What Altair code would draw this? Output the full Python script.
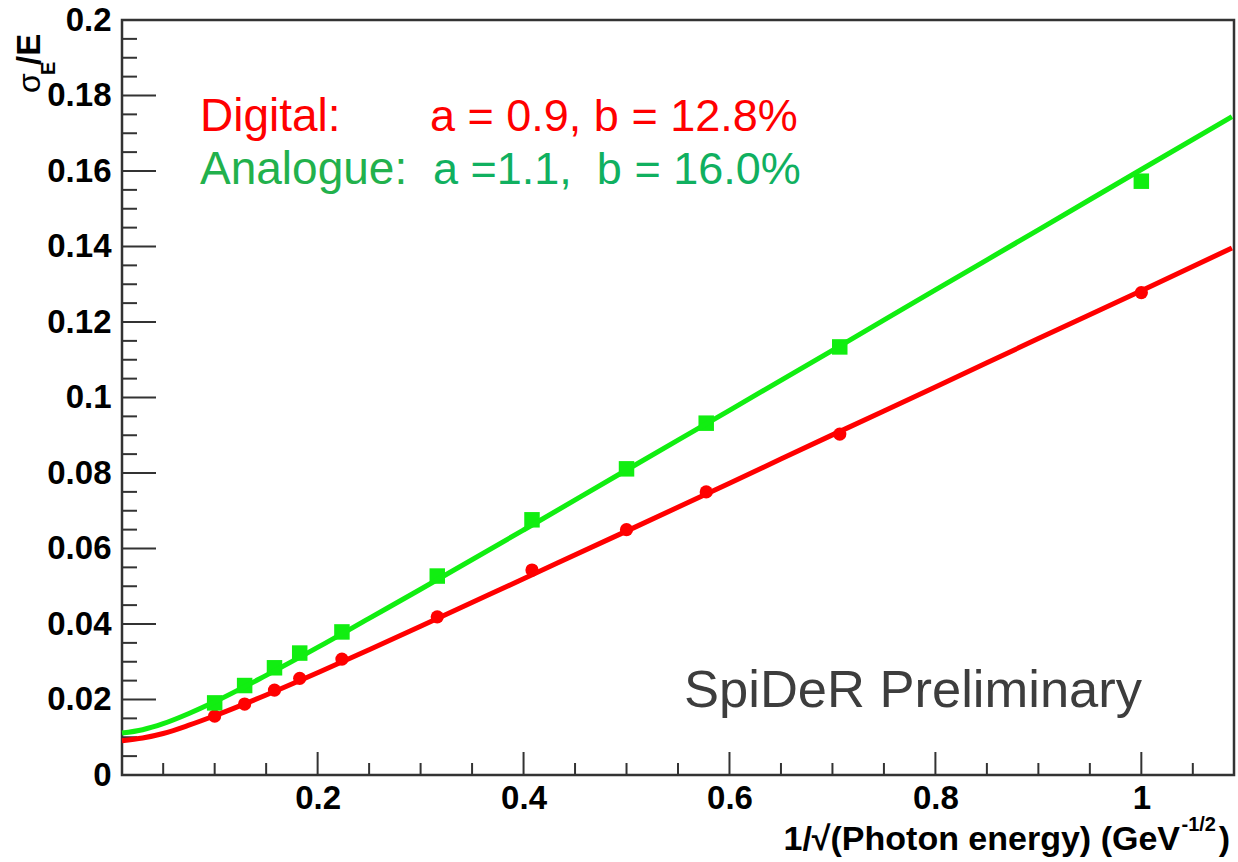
import altair as alt
import pandas as pd

# ---------------- data ----------------
x_points = [0.1, 0.1291, 0.1581, 0.1826, 0.2236, 0.3162, 0.4082, 0.5, 0.5774, 0.7071, 1.0]
digital_points = [0.0156, 0.0188, 0.0225, 0.0256, 0.0307, 0.0419, 0.0543, 0.0650, 0.0750, 0.0903, 0.1278]
analogue_points = [0.0191, 0.0237, 0.0284, 0.0323, 0.0379, 0.0527, 0.0676, 0.0811, 0.0932, 0.1134, 0.1573]

x_fit = [0.01, 0.03, 0.05, 0.075, 0.1, 0.15, 0.2, 0.25, 0.3, 0.4, 0.5, 0.6, 0.7, 0.8, 0.9, 1.0, 1.088]
digital_fit = [0.0091, 0.0098, 0.0110, 0.0132, 0.0157, 0.0212, 0.0271, 0.0332, 0.0394, 0.0520,
               0.0646, 0.0773, 0.0901, 0.1028, 0.1156, 0.1283, 0.1396]
analogue_fit = [0.0111, 0.0120, 0.0136, 0.0163, 0.0194, 0.0264, 0.0338, 0.0415, 0.0492, 0.0649,
                0.0808, 0.0966, 0.1125, 0.1285, 0.1444, 0.1604, 0.1744]

x_major = [0.2, 0.4, 0.6, 0.8, 1.0]
x_minor = [0.05, 0.1, 0.15, 0.25, 0.3, 0.35, 0.45, 0.5, 0.55, 0.65, 0.7, 0.75,
           0.85, 0.9, 0.95, 1.05]
y_major = [0.02, 0.04, 0.06, 0.08, 0.1, 0.12, 0.14, 0.16, 0.18]
y_labels = [0, 0.02, 0.04, 0.06, 0.08, 0.1, 0.12, 0.14, 0.16, 0.18, 0.2]
y_minor = [0.005, 0.01, 0.015, 0.025, 0.03, 0.035, 0.045, 0.05, 0.055, 0.065, 0.07, 0.075,
           0.085, 0.09, 0.095, 0.105, 0.11, 0.115, 0.125, 0.13, 0.135, 0.145, 0.15, 0.155,
           0.165, 0.17, 0.175, 0.185, 0.19, 0.195]

series_names = ["Digital", "Analogue"]
series_colors = ["#ff0000", "#11ee11"]

# ---------------- layout ----------------
W, H = 1112, 755
FONT = "Liberation Sans"
AX = "#333333"

pts = pd.DataFrame({
    "x": x_points * 2,
    "y": digital_points + analogue_points,
    "s": ["Digital"] * len(x_points) + ["Analogue"] * len(x_points),
})
fit = pd.DataFrame({
    "x": x_fit * 2,
    "y": digital_fit + analogue_fit,
    "s": ["Digital"] * len(x_fit) + ["Analogue"] * len(x_fit),
})

xscale = alt.Scale(domain=[0.01, 1.09], nice=False, zero=False)
yscale = alt.Scale(domain=[0, 0.2], nice=False, zero=True)
cscale = alt.Scale(domain=series_names, range=series_colors)

xaxis = alt.Axis(values=x_major, format="~g", ticks=False, domain=False, grid=False, title=None,
                 labelFont=FONT, labelFontWeight="bold", labelFontSize=33, labelColor="#000",
                 labelPadding=7, labelOverlap=False, labelFlush=False)
yaxis = alt.Axis(values=y_labels, format="~g", ticks=False, domain=False, grid=False, title=None,
                 labelFont=FONT, labelFontWeight="bold", labelFontSize=33, labelColor="#000",
                 labelPadding=11, labelOverlap=False, labelFlush=False)

base_axes = alt.Chart(pd.DataFrame({"x": [0.5], "y": [0.1]})).mark_point(opacity=0).encode(
    x=alt.X("x:Q", scale=xscale, axis=xaxis),
    y=alt.Y("y:Q", scale=yscale, axis=yaxis),
)

lines = alt.Chart(fit).mark_line(strokeWidth=5, interpolate="monotone").encode(
    x=alt.X("x:Q", scale=xscale),
    y=alt.Y("y:Q", scale=yscale),
    color=alt.Color("s:N", scale=cscale, legend=None),
    detail="s:N",
)

circles = alt.Chart(pts).transform_filter(alt.datum.s == "Digital").mark_point(
    shape="circle", filled=True, size=175, opacity=1).encode(
    x=alt.X("x:Q", scale=xscale),
    y=alt.Y("y:Q", scale=yscale),
    color=alt.Color("s:N", scale=cscale, legend=None),
)
squares = alt.Chart(pts).transform_filter(alt.datum.s == "Analogue").mark_point(
    shape="square", filled=True, size=240, opacity=1).encode(
    x=alt.X("x:Q", scale=xscale),
    y=alt.Y("y:Q", scale=yscale),
    color=alt.Color("s:N", scale=cscale, legend=None),
)

def xticks(vals, length):
    return alt.Chart(pd.DataFrame({"x": vals})).mark_rule(color=AX, strokeWidth=2).encode(
        x=alt.X("x:Q", scale=xscale), y=alt.value(H), y2=alt.value(H - length))

def yticks(vals, length):
    return alt.Chart(pd.DataFrame({"y": vals})).mark_rule(color=AX, strokeWidth=2).encode(
        y=alt.Y("y:Q", scale=yscale), x=alt.value(0), x2=alt.value(length))

def label(txt, x, y, size, color, weight="normal", align="left", angle=0):
    return alt.Chart(pd.DataFrame({"t": [txt]})).mark_text(
        font=FONT, fontSize=size, fontWeight=weight, color=color, align=align,
        baseline="alphabetic", angle=angle).encode(
        x=alt.value(x), y=alt.value(y), text="t:N")

texts = [
    label("Digital:", 78, 111, 46, "#ff0000"),
    label("a = 0.9, b = 12.8%", 308, 111, 45, "#ff0000"),
    label("Analogue:", 78, 164, 46, "#22b14c"),
    label("a =1.1,\u00a0 b = 16.0%", 311, 164, 45, "#10b060"),
    label("SpiDeR Preliminary", 562, 687, 52.5, "#3d3d3d"),
    # x axis title
    label("1/\u221a(Photon energy) (GeV", 1058, 830, 34, "#000", "bold", "right"),
    label("-1/2", 1094, 811, 20, "#000", "bold", "right"),
    label(")", 1108, 830, 34, "#000", "bold", "right"),
    # y axis title
    label("\u03c3", -82, 73, 32, "#000", "normal", "left", 270),
    label("E", -67, 55, 20, "#000", "bold", "left", 270),
    label("/E", -82, 45, 33, "#000", "bold", "left", 270),
]

chart = alt.layer(
    base_axes,
    xticks(x_major, 23), xticks(x_minor, 12),
    yticks(y_major, 34), yticks(y_minor, 15),
    circles, squares, lines,
    *texts,
).properties(
    width=W, height=H,
    autosize=alt.AutoSizeParams(type="none"),
    padding={"left": 122, "top": 20, "right": 4, "bottom": 87},
    background="white",
).configure_view(stroke=AX, strokeWidth=2.5)

chart.save("out.html", embed_options={"renderer": "svg", "actions": False})
